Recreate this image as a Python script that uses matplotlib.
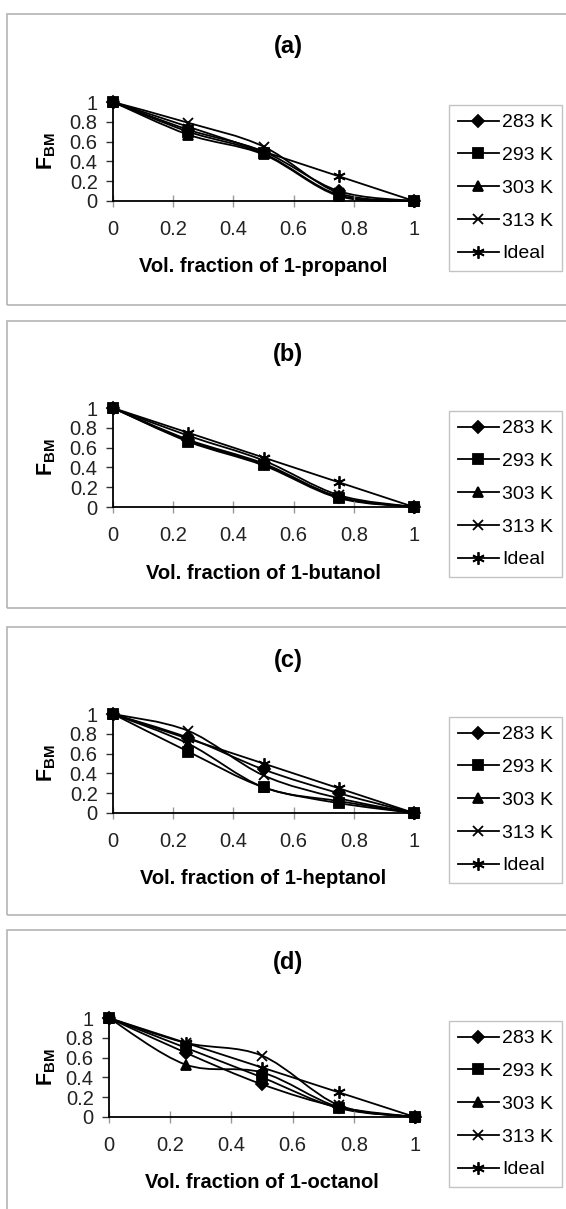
import numpy as np
import matplotlib
matplotlib.use("Agg")
import matplotlib.pyplot as plt
from matplotlib.path import Path
from matplotlib.patches import PathPatch, Rectangle
from matplotlib.lines import Line2D

plt.rcParams['font.family'] = ['Liberation Sans', 'DejaVu Sans']
plt.rcParams['mathtext.fontset'] = 'custom'
plt.rcParams['mathtext.rm'] = 'Liberation Sans'
plt.rcParams['mathtext.bf'] = 'Liberation Sans:bold'

# data
vol_frac = [0, 0.25, 0.5, 0.75, 1]
series = ["283 K", "293 K", "303 K", "313 K", "Ideal"]
titles = ["(a)", "(b)", "(c)", "(d)"]
alcohols = ["1-propanol", "1-butanol", "1-heptanol", "1-octanol"]

propanol_283 = [1, 0.72, 0.50, 0.10, 0]
propanol_293 = [1, 0.70, 0.48, 0.06, 0]
propanol_303 = [1, 0.67, 0.47, 0.05, 0]
propanol_313 = [1, 0.79, 0.55, 0.08, 0]
propanol_ideal = [1, 0.75, 0.50, 0.25, 0]

butanol_283 = [1, 0.68, 0.44, 0.10, 0]
butanol_293 = [1, 0.66, 0.42, 0.09, 0]
butanol_303 = [1, 0.67, 0.43, 0.10, 0]
butanol_313 = [1, 0.72, 0.47, 0.12, 0]
butanol_ideal = [1, 0.75, 0.50, 0.25, 0]

heptanol_283 = [1, 0.76, 0.44, 0.20, 0]
heptanol_293 = [1, 0.62, 0.26, 0.10, 0]
heptanol_303 = [1, 0.70, 0.26, 0.12, 0]
heptanol_313 = [1, 0.83, 0.38, 0.15, 0]
heptanol_ideal = [1, 0.75, 0.50, 0.25, 0]

octanol_283 = [1, 0.65, 0.33, 0.10, 0]
octanol_293 = [1, 0.70, 0.40, 0.09, 0]
octanol_303 = [1, 0.53, 0.45, 0.10, 0]
octanol_313 = [1, 0.75, 0.62, 0.12, 0]
octanol_ideal = [1, 0.75, 0.50, 0.25, 0]

panels = [
    [propanol_283, propanol_293, propanol_303, propanol_313, propanol_ideal],
    [butanol_283, butanol_293, butanol_303, butanol_313, butanol_ideal],
    [heptanol_283, heptanol_293, heptanol_303, heptanol_313, heptanol_ideal],
    [octanol_283, octanol_293, octanol_303, octanol_313, octanol_ideal],
]

markers = ["D", "s", "^", "x", (6, 2, 0)]
msizes = [6, 7, 7, 7, 9]

W, H = 566, 1209
fig = plt.figure(figsize=(W / 100, H / 100), dpi=100)


def smooth_path(x, y):
    # excel-style smoothed line (bezier through the points)
    pts = np.column_stack([x, y]).astype(float)
    n = len(pts)
    verts = [pts[0]]
    codes = [Path.MOVETO]
    for i in range(n - 1):
        p0 = pts[max(i - 1, 0)]
        p1 = pts[i]
        p2 = pts[i + 1]
        p3 = pts[min(i + 2, n - 1)]
        verts += [p1 + (p2 - p0) / 6, p2 - (p3 - p1) / 6, p2]
        codes += [Path.CURVE4] * 3
    return Path(verts, codes)


# panel boxes (px): top, bottom ; axes y=0 px ; axes left/right px
boxes = [(14, 305), (321, 608), (627, 915), (930, 1215)]
y0_px = [201, 507, 813, 1117]
x_px = [(113, 414), (113, 414), (113, 414), (109, 415)]
ax_h = 99

for k in range(4):
    top, bot = boxes[k]
    fig.patches.append(Rectangle((7 / W, 1 - bot / H), (590 - 7) / W, (bot - top) / H,
                                 transform=fig.transFigure, fill=False,
                                 edgecolor="#b4b4b4", linewidth=1.2))

    xl, xr = x_px[k]
    ax = fig.add_axes([xl / W, 1 - y0_px[k] / H, (xr - xl) / W, ax_h / H])
    for j, vals in enumerate(panels[k]):
        ax.add_patch(PathPatch(smooth_path(vol_frac, vals), fill=False,
                               edgecolor="black", linewidth=1.3, clip_on=False))
        ax.plot(vol_frac, vals, linestyle="none", marker=markers[j],
                markersize=msizes[j], color="black", markeredgewidth=1.3,
                clip_on=False)

    ax.set_xlim(0, 1)
    ax.set_ylim(0, 1)
    ax.set_xticks([0, 0.2, 0.4, 0.6, 0.8, 1])
    ax.set_xticklabels(["0", "0.2", "0.4", "0.6", "0.8", "1"])
    ax.set_yticks([0, 0.2, 0.4, 0.6, 0.8, 1])
    ax.set_yticklabels(["0", "0.2", "0.4", "0.6", "0.8", "1"])
    for s in ["top", "right"]:
        ax.spines[s].set_visible(False)
    for s in ["left", "bottom"]:
        ax.spines[s].set_linewidth(1.3)
    ax.tick_params(axis="x", direction="inout", length=8, width=1, color="#999999",
                   pad=10, labelsize=14.5, labelcolor="#222222")
    ax.tick_params(axis="y", direction="out", length=5, width=1, color="#333333",
                   pad=6, labelsize=14.5, labelcolor="#222222")
    ax.patch.set_alpha(0)

    ax.set_xlabel("Vol. fraction of " + alcohols[k], fontsize=14.5, fontweight="bold")
    ax.xaxis.label.set_va("center")
    ax.xaxis.set_label_coords(0.5, -66 / ax_h)
    ax.set_ylabel(r"$\mathbf{F}_{\mathbf{BM}}$", fontsize=15.5)
    ax.yaxis.label.set_va("center")
    ax.yaxis.set_label_coords(-(xl - 47) / (xr - xl), 0.5)

    fig.text(288 / W, 1 - (top + 33) / H, titles[k], ha="center", va="center",
             fontsize=17, fontweight="bold")

    handles = [Line2D([], [], color="black", linewidth=1.3, marker=markers[j],
                      markersize=msizes[j], markeredgewidth=1.3)
               for j in range(5)]
    leg = ax.legend(handles, series, loc="upper left",
                    bbox_to_anchor=(449 / W, 1 - (y0_px[k] - ax_h + 3) / H),
                    bbox_transform=fig.transFigure, borderaxespad=0,
                    fontsize=14, frameon=True, fancybox=False,
                    handlelength=2.1, handletextpad=0.2, labelspacing=0.78,
                    borderpad=0.45)
    leg.get_frame().set_edgecolor("#b4b4b4")
    leg.get_frame().set_linewidth(1.0)

plt.savefig("out.png", dpi=100)
